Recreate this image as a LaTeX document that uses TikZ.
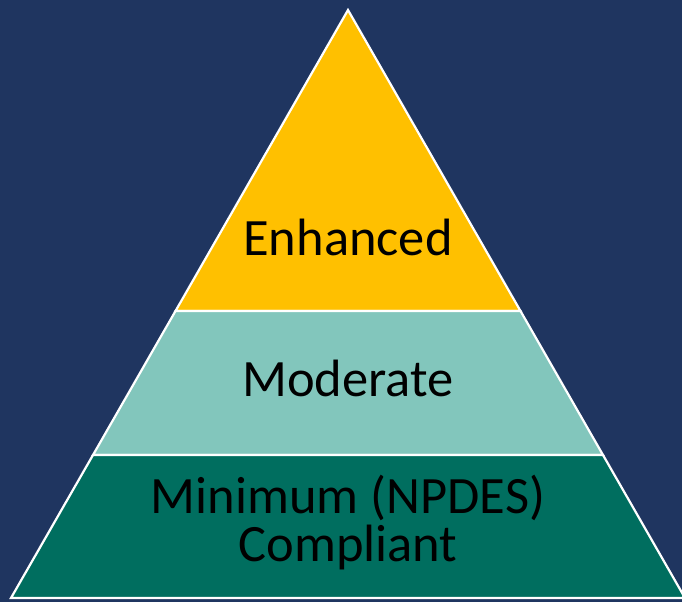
\documentclass[tikz,border=0pt]{standalone}
\usepackage{fontspec}
\setmainfont{Carlito}
\definecolor{bgnavy}{RGB}{31,53,96}
\definecolor{tiergold}{RGB}{255,192,0}
\definecolor{tierlight}{RGB}{130,198,188}
\definecolor{tierdark}{RGB}{0,110,95}
\begin{document}
\begin{tikzpicture}[x=1pt,y=-1pt,
  band/.style={draw=white,line width=2.2pt,line join=miter},
  label/.style={anchor=base,inner sep=0pt,text=black,font=\fontsize{52.5}{48}\selectfont}]
\useasboundingbox (0,0) rectangle (682,602);
\fill[bgnavy] (0,0) rectangle (682,602);
\clip (0,0) rectangle (682,602);
% tiers
\draw[band,fill=tiergold] (348,10) -- (520.5,311) -- (175.5,311) -- cycle;
\draw[band,fill=tierlight] (175.5,311) -- (520.5,311) -- (603,455) -- (93,455) -- cycle;
\draw[band,fill=tierdark] (93,455) -- (603,455) -- (685,598) -- (11,598) -- cycle;
% labels
\node[label] (enh) at (348,255) {Enhanced};
\node[label] (mod) at (348,396) {Moderate};
\node[label] (min) at (348,513) {Minimum (NPDES)};
\node[label] (comp) at (348,561) {Compliant};
\end{tikzpicture}
\end{document}
